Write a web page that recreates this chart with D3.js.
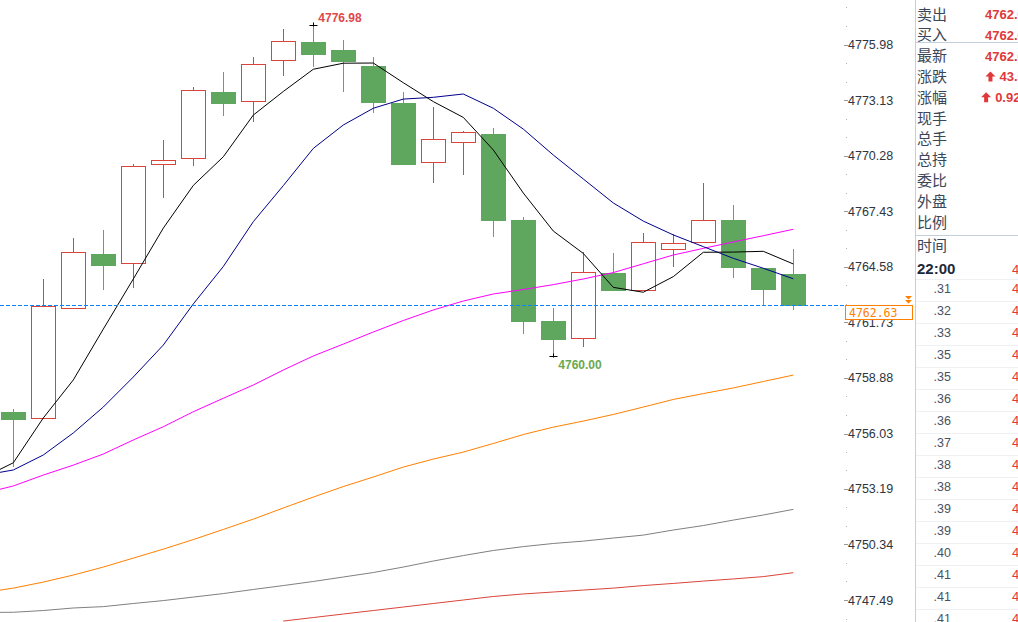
<!DOCTYPE html>
<html>
<head>
<meta charset="utf-8">
<script src="https://cdn.jsdelivr.net/npm/d3@7"></script>
<style>
    body { margin: 0; background: #fff; overflow: hidden; }
    svg { display: block; }
</style>
</head>
<body>
<div id="chart"></div>
<script>
// candles
var opens  = [4757.12, 4756.81, 4762.46, 4765.24, 4764.78, 4769.84, 4770.15, 4773.55, 4773.08, 4775.18, 4776.12, 4775.71, 4774.89, 4772.99, 4769.95, 4770.97, 4771.40, 4766.99, 4761.80, 4760.92, 4764.27, 4763.38, 4765.48, 4765.84, 4766.99, 4764.52, 4764.21];
var highs  = [4757.29, 4763.96, 4766.06, 4766.47, 4769.86, 4771.09, 4773.79, 4774.58, 4775.35, 4776.79, 4776.98, 4776.22, 4775.35, 4773.55, 4772.78, 4771.55, 4771.72, 4767.15, 4762.49, 4765.36, 4765.31, 4766.32, 4766.27, 4768.88, 4767.76, 4764.52, 4765.50];
var lows   = [4754.29, 4756.81, 4762.46, 4763.41, 4763.48, 4768.13, 4769.77, 4772.32, 4772.03, 4774.39, 4774.85, 4773.57, 4772.49, 4769.87, 4768.90, 4769.31, 4766.13, 4761.14, 4760.00, 4760.48, 4763.41, 4763.38, 4764.59, 4765.84, 4764.03, 4762.57, 4762.37];
var closes = [4756.79, 4762.57, 4765.33, 4764.69, 4769.76, 4770.06, 4773.66, 4773.00, 4774.99, 4776.15, 4775.52, 4775.14, 4773.06, 4769.87, 4771.13, 4771.49, 4767.00, 4761.82, 4760.90, 4764.32, 4763.41, 4765.84, 4765.81, 4766.97, 4764.59, 4763.46, 4762.63];

// moving average lines, first value is the bar just left of the view
var maBlack   = [4753.77, 4754.53, 4756.83, 4758.78, 4761.39, 4763.96, 4766.57, 4768.76, 4770.23, 4772.37, 4773.58, 4774.72, 4775.03, 4775.04, 4774.03, 4773.06, 4772.25, 4770.58, 4768.37, 4766.42, 4765.27, 4763.53, 4763.28, 4764.08, 4765.33, 4765.34, 4765.38, 4764.73];
var maBlue    = [4753.89, 4754.16, 4754.93, 4756.06, 4757.39, 4758.93, 4760.57, 4762.68, 4764.60, 4766.90, 4768.75, 4770.66, 4771.86, 4772.72, 4773.19, 4773.28, 4773.45, 4772.72, 4771.65, 4770.32, 4769.09, 4767.86, 4766.93, 4766.22, 4765.62, 4765.02, 4764.51, 4763.97];
var maMagenta = [4752.96, 4753.34, 4753.90, 4754.41, 4754.98, 4755.70, 4756.38, 4757.15, 4757.84, 4758.52, 4759.29, 4760.01, 4760.62, 4761.24, 4761.83, 4762.37, 4762.83, 4763.19, 4763.42, 4763.67, 4763.96, 4764.29, 4764.74, 4765.19, 4765.53, 4765.86, 4766.18, 4766.51];
var maOrange  = [4747.87, 4748.10, 4748.41, 4748.77, 4749.18, 4749.64, 4750.10, 4750.59, 4751.11, 4751.64, 4752.21, 4752.77, 4753.31, 4753.80, 4754.31, 4754.72, 4755.08, 4755.52, 4755.98, 4756.36, 4756.67, 4757.01, 4757.39, 4757.78, 4758.08, 4758.37, 4758.70, 4759.03];
var maGray    = [4746.85, 4746.86, 4746.95, 4747.08, 4747.15, 4747.31, 4747.46, 4747.64, 4747.82, 4748.03, 4748.23, 4748.44, 4748.67, 4748.90, 4749.18, 4749.49, 4749.77, 4750.03, 4750.23, 4750.39, 4750.51, 4750.67, 4750.82, 4751.08, 4751.31, 4751.59, 4751.85, 4752.14];
var maRed     = [null, null, null, null, null, null, null, null, null, null, 4746.41, 4746.59, 4746.77, 4746.95, 4747.13, 4747.31, 4747.49, 4747.67, 4747.80, 4747.90, 4748.00, 4748.10, 4748.23, 4748.34, 4748.46, 4748.57, 4748.69, 4748.89];

var yTicks = [4747.49, 4750.34, 4753.19, 4756.03, 4758.88, 4761.73, 4764.58, 4767.43, 4770.28, 4773.13, 4775.98];
var lastPrice = 4762.63;
// marked extremes: bar index and price
var highMark = [10, 4776.98];
var lowMark = [18, 4760.00];

// right hand quote panel
var quoteLabels = ['卖出', '买入', '最新', '涨跌', '涨幅', '现手', '总手', '总持', '委比', '外盘', '比例'];
var quoteValues = ['4762.63', '4762.63', '4762.63', '43.56', '0.92%', '', '', '', '', '', ''];
var quoteArrows = [false, false, false, true, true, false, false, false, false, false, false];
var tickTimeHead = '22:00';
var tickTimes = ['.31', '.32', '.33', '.35', '.35', '.36', '.36', '.37', '.38', '.38', '.39', '.39', '.40', '.41', '.41', '.41'];

var W = 1018, H = 622;
var plotRight = 845;
var red = '#d9453b', green = '#5fa65f';

var svg = d3.select('#chart')
    .append('svg')
    .attr('width', W)
    .attr('height', H)
    .style('font-family', 'Arial, "Liberation Sans", sans-serif');

svg.append('rect').attr('width', W).attr('height', H).attr('fill', '#fff');

var x = d3.scaleLinear()
    .domain([0, opens.length - 1])
    .range([13.3, 793.3]);

var y = d3.scaleLinear()
    .domain([yTicks[0], yTicks[yTicks.length - 1]])
    .range([600, 44.7]);

svg.append('clipPath')
    .attr('id', 'plotclip')
    .append('rect')
    .attr('x', 0).attr('y', 0)
    .attr('width', plotRight).attr('height', H);

var plot = svg.append('g').attr('clip-path', 'url(#plotclip)');

// candles
var candles = opens.map(function (o, i) {
    return {i: i, o: o, h: highs[i], l: lows[i], c: closes[i]};
});

var cg = plot.append('g').attr('shape-rendering', 'crispEdges');

candles.forEach(function (d) {
    var cx = Math.round(x(d.i));
    var up = d.c >= d.o;
    var col = up ? red : green;
    var top = Math.round(y(Math.max(d.o, d.c)));
    var bot = Math.round(y(Math.min(d.o, d.c)));
    if (up) {
        cg.append('line')
            .attr('x1', cx + 0.5).attr('x2', cx + 0.5)
            .attr('y1', Math.round(y(d.h))).attr('y2', top)
            .attr('stroke', col);
        cg.append('line')
            .attr('x1', cx + 0.5).attr('x2', cx + 0.5)
            .attr('y1', bot).attr('y2', Math.round(y(d.l)))
            .attr('stroke', col);
        cg.append('rect')
            .attr('x', cx - 12 + 0.5)
            .attr('y', top + 0.5)
            .attr('width', 24)
            .attr('height', Math.max(bot - top, 1))
            .attr('fill', '#fff')
            .attr('stroke', col);
    } else {
        cg.append('line')
            .attr('x1', cx + 0.5).attr('x2', cx + 0.5)
            .attr('y1', Math.round(y(d.h))).attr('y2', Math.round(y(d.l)))
            .attr('stroke', col);
        cg.append('rect')
            .attr('x', cx - 12)
            .attr('y', top)
            .attr('width', 25)
            .attr('height', Math.max(bot - top + 1, 2))
            .attr('fill', col);
    }
});

// moving averages
var line = d3.line()
    .defined(function (d) { return d != null; })
    .x(function (d, i) { return x(i - 1); })
    .y(function (d) { return y(d); });

[[maRed, '#d9453b'], [maGray, '#808080'], [maOrange, '#ff8000'],
    [maMagenta, '#ff00ff'], [maBlue, '#00008b'], [maBlack, '#000000']].forEach(function (s) {
    plot.append('path')
        .datum(s[0])
        .attr('d', line)
        .attr('fill', 'none')
        .attr('stroke', s[1])
        .attr('stroke-width', 1);
});

// last price line, drawn as short dashes
var ly = Math.round(y(lastPrice));
var dashes = svg.append('g').attr('shape-rendering', 'crispEdges');
d3.range(0, plotRight - 3, 6).forEach(function (dx) {
    dashes.append('rect')
        .attr('x', dx).attr('y', ly)
        .attr('width', 4).attr('height', 1)
        .attr('fill', '#0a84ff');
});

// high / low markers
function mark(i, v) {
    var cx = Math.round(x(i)) + 0.5, cy = Math.round(y(v)) + 0.5;
    plot.append('line').attr('x1', cx - 4).attr('x2', cx + 4).attr('y1', cy).attr('y2', cy).attr('stroke', '#000');
    plot.append('line').attr('x1', cx).attr('x2', cx).attr('y1', cy - 3).attr('y2', cy + 1).attr('stroke', '#000');
}
mark(highMark[0], highMark[1]);
mark(lowMark[0], lowMark[1]);

svg.append('text')
    .attr('x', x(highMark[0]) + 5)
    .attr('y', y(highMark[1]) - 3)
    .attr('fill', '#e0484a')
    .style('font-size', '12px')
    .style('font-weight', 'bold')
    .text(highMark[1].toFixed(2));

svg.append('text')
    .attr('x', x(lowMark[0]) + 5)
    .attr('y', y(lowMark[1]) + 13)
    .attr('fill', '#6aa84f')
    .style('font-size', '12px')
    .style('font-weight', 'bold')
    .text(lowMark[1].toFixed(2));

// y axis
var ax = svg.append('g').attr('shape-rendering', 'crispEdges');
var minor = [];
var stepT = yTicks[1] - yTicks[0];
for (var k = -1; k < yTicks.length; k++) {
    var base = yTicks[0] + k * stepT;
    minor.push(base + stepT / 3, base + 2 * stepT / 3);
}
ax.selectAll('.minor')
    .data(minor.filter(function (v) { return y(v) > 0 && y(v) < H; }))
    .enter().append('rect')
    .attr('x', 846)
    .attr('y', function (d) { return Math.round(y(d)); })
    .attr('width', 1).attr('height', 1)
    .attr('fill', '#b0b0b0');

ax.selectAll('.major')
    .data(yTicks)
    .enter().append('line')
    .attr('x1', 844).attr('x2', 848)
    .attr('y1', function (d) { return Math.round(y(d)) + 0.5; })
    .attr('y2', function (d) { return Math.round(y(d)) + 0.5; })
    .attr('stroke', '#999');

svg.selectAll('.ylab')
    .data(yTicks)
    .enter().append('text')
    .attr('x', 848)
    .attr('y', function (d) { return y(d) + 4.5; })
    .attr('fill', '#2e3440')
    .style('font-size', '12.5px')
    .text(function (d) { return d.toFixed(2); });

// last price tag
svg.append('rect')
    .attr('x', 845.5).attr('y', ly + 0.5)
    .attr('width', 67).attr('height', 14)
    .attr('fill', '#fff')
    .attr('stroke', '#ff8000')
    .attr('shape-rendering', 'crispEdges');
svg.append('text')
    .attr('x', 849).attr('y', ly + 12)
    .attr('fill', '#ff8000')
    .style('font-family', '"DejaVu Sans Mono", "Liberation Mono", monospace')
    .style('font-size', '11.5px')
    .text(lastPrice.toFixed(2));
svg.append('path')
    .attr('d', 'M905,' + (ly - 9) + 'h7l-3.5,3.5z M905,' + (ly - 5) + 'h7l-3.5,3.5z')
    .attr('fill', '#ff8000');

// quote panel
var panel = svg.append('g').attr('shape-rendering', 'crispEdges');
panel.append('line')
    .attr('x1', 915.5).attr('x2', 915.5).attr('y1', 0).attr('y2', H)
    .attr('stroke', '#c5cedb');
[42, 235].forEach(function (yy) {
    panel.append('line')
        .attr('x1', 916).attr('x2', W).attr('y1', yy + 0.5).attr('y2', yy + 0.5)
        .attr('stroke', '#c5cedb');
});

var cjk = '"Noto Sans CJK SC", "Noto Sans", sans-serif';
quoteLabels.forEach(function (lab, i) {
    var cy = 14 + i * 20.8;
    svg.append('text')
        .attr('x', 917).attr('y', cy + 5.5)
        .attr('fill', '#3b4658')
        .style('font-family', cjk)
        .style('font-size', '15px')
        .text(lab);
    if (quoteValues[i]) {
        var t = svg.append('text')
            .attr('x', 1032).attr('y', cy + 5)
            .attr('text-anchor', 'end')
            .attr('fill', '#e0393b')
            .style('font-size', '13px')
            .style('font-weight', 'bold')
            .text(quoteValues[i]);
        if (quoteArrows[i]) {
            var ax0 = 1032 - t.node().getComputedTextLength() - 14;
            svg.append('path')
                .attr('d', 'M' + ax0 + ',' + (cy + 0) + 'l5,-5l5,5h-3v5h-4v-5z')
                .attr('fill', '#e0393b');
        }
    }
});

svg.append('text')
    .attr('x', 917).attr('y', 251)
    .attr('fill', '#3b4658')
    .style('font-family', cjk)
    .style('font-size', '15px')
    .text('时间');

svg.append('text')
    .attr('x', 917).attr('y', 274)
    .attr('fill', '#1e2838')
    .style('font-size', '15px')
    .style('font-weight', 'bold')
    .text(tickTimeHead);
svg.append('text')
    .attr('x', 1012).attr('y', 274)
    .attr('fill', '#e0393b')
    .style('font-size', '13px')
    .text('4762.63');

tickTimes.forEach(function (t, i) {
    var cy = 288.5 + i * 22;
    panel.append('line')
        .attr('x1', 916).attr('x2', W)
        .attr('y1', cy - 10 + 0.5).attr('y2', cy - 10 + 0.5)
        .attr('stroke', '#eef0f3');
    svg.append('text')
        .attr('x', 951).attr('y', cy + 4.5)
        .attr('text-anchor', 'end')
        .attr('fill', '#4a5262')
        .style('font-size', '12.5px')
        .text(t);
    svg.append('text')
        .attr('x', 1012).attr('y', cy + 4.5)
        .attr('fill', '#e0393b')
        .style('font-size', '13px')
        .text('4762.63');
});
</script>
</body>
</html>
